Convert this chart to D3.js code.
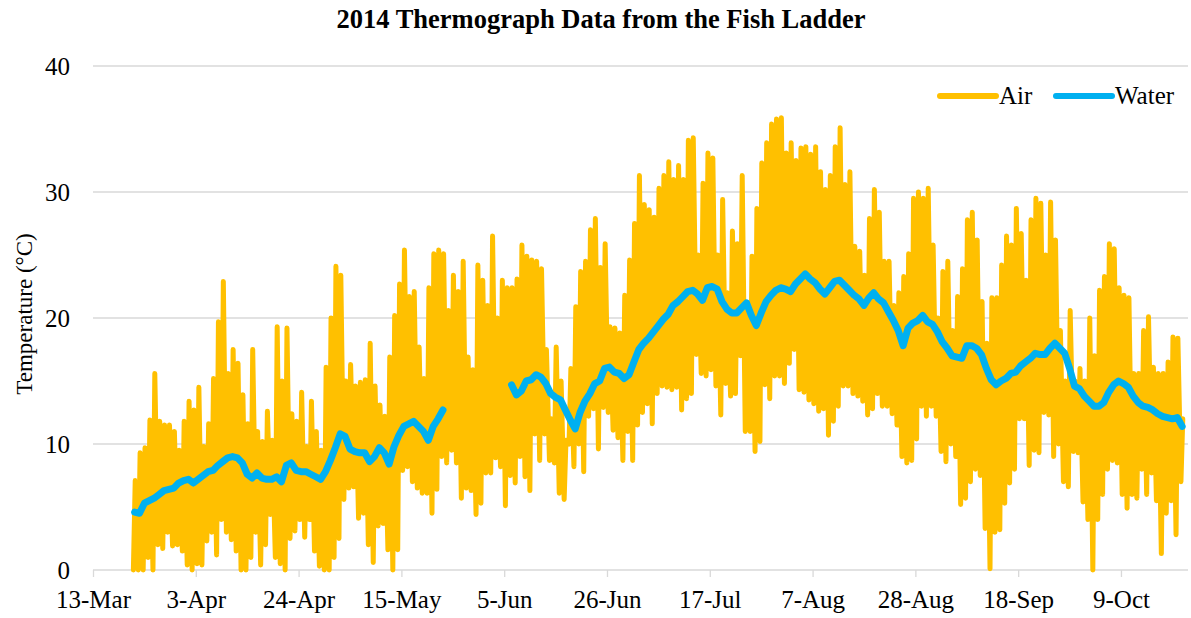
<!DOCTYPE html>
<html><head><meta charset="utf-8">
<script src="https://cdn.jsdelivr.net/npm/d3@7"></script>
<style>
body{margin:0;background:#fff}
text{font-family:"Liberation Serif","Times New Roman",serif;fill:#000}
</style>
</head><body>
<svg id="chart" width="1191" height="618"></svg>
<script>
// ---------- data ----------
const firstDay = "2014-03-21";          // first day of the record
const tickLabels = ["13-Mar","3-Apr","24-Apr","15-May","5-Jun","26-Jun","17-Jul","7-Aug","28-Aug","18-Sep","9-Oct"];
const yTicks = [0,10,20,30,40];
const seriesNames = ["Air","Water"];

// daily air maximum (°C), one value per day from 21-Mar
const airMax = [
 7.1,9.3,9.7,11.9,15.6,11.8,11.5,11.5,11,9.5,11.8,13.4,12.7,14.5,9.8,11.6,15.2,19.7,22.9,15.6,17.5,16.4,13.9,11.6,17.5,11,10.2,12.6,10.3,19.3,15,19.2,12.4,
 11.8,14.1,9.8,13.4,11,9.5,16.1,20,24.1,23.4,15,16.3,14.6,14.9,15.1,18,14.6,13.1,12.2,16.9,20.2,22.7,25.4,21.7,22.1,17.7,15.2,22.4,25.1,25.4,25.1,20.6,23.4,22.1,24.5,16.9,
 15.9,24.2,23,21,26.5,20,23,22.4,22.4,23.1,25.8,24.9,24.6,24.5,23.9,17.5,12,17.7,15,10.3,16,20.9,23.7,24.5,27,27.9,24,25.9,19.3,19.2,18.8,21.8,24.6,27.5,31.3,
 29,28.6,28,30.3,31.3,32.4,31,32.1,31,34.1,34.3,25,30.7,33.1,32.7,25,29.4,22,26.9,25.9,31.3,21,24.9,28.7,32.3,33.9,35.4,35.8,35.9,33.1,33.9,32.5,33.5,
 33.6,33,33.6,31.6,30.2,31.3,33.6,35.1,30.6,31.6,25.7,25.3,23.4,27.9,30.2,28.4,24.5,24.5,21,22,23.3,25.1,29.5,30,29.5,30.3,25.8,20,23.7,24.5,19,21.7,23.9,27.8,28.4,26.2,21.3,
 18,21.6,21.6,24.2,26.5,25.8,28.7,26.7,23,27.8,29.5,29.1,25,29.2,26.2,19,15,20.6,15,16,15,20,17,22.2,23.3,25.9,25.5,22.4,21.8,21.6,15.6,15.6,19,20.1,16.1,15.6,15.6,16.5,18.5,18.4,12
];
// daily air minimum (°C)
const airMin = [
 0,0,0,1,0,2,1.7,3,1.9,2,1.5,0.4,0,0.5,0.4,2.3,3,1.2,4,3,2.4,1.5,0,0,1,3,0.4,2,4.4,1,0.5,0,2.5,
 3.1,4,2.6,4,1.5,0.3,0,0,1,2.5,5.6,6.5,6.6,4.1,4.5,2,0.6,3.5,3.7,1.6,0,1.6,7.9,8.2,7,6.5,6.1,6.1,4.5,6.4,9,8.5,9.5,8.5,
 5.7,6.5,6.3,4.4,5.3,7.7,7.7,8.9,8.2,5.1,7.5,6.9,9,7.4,6.3,10.8,8.7,10.8,8.7,8.5,6.1,5.6,10,8.2,10,7.8,12.2,12.8,9.6,12.9,12.5,11.1,10.5,8.7,11,
 8.7,11.5,12.5,13.2,11.6,14,14.6,14.5,14.3,14.5,12.7,13.6,14,17.1,15.6,15.4,15.9,14.6,12.3,14.8,13.8,14,17,11,11,9.4,10.2,14.7,13.6,15.4,15.4,14.8,16.4,17.5,14.3,
 14.1,13.5,13.2,12.6,12.8,10.7,11.8,13,14.6,14.6,14,13.8,13.4,12.3,12.8,14,13,13,12.4,11.5,9,8.5,8.7,10.4,13,12.2,13,12.2,9.4,8.6,10,9,5.2,5.7,
 7,8,7.5,3.3,0.1,3,3.2,5.3,6.9,8,12,12,8.3,9.5,9.3,12.5,12.3,9,10,7,6.6,9.4,9.3,5.4,4,0,4,6,8,8.7,8.5,6,4.9,6,5.7,8,6,7.7,5.5,1.3,4.5,5.5,2.8,7
];
// daily water temperature (°C); null = logger out of the water
const water = [
 4.6,4.5,5.3,5.5,5.7,6,6.3,6.4,6.5,6.9,7.1,7.2,6.9,7.2,7.5,7.8,7.9,8.3,8.6,8.9,9,8.9,8.5,7.6,7.3,7.7,7.3,7.2,7.2,7.4,
 7,8.3,8.5,7.9,7.8,7.8,7.6,7.4,7.2,7.8,8.7,9.7,10.8,10.6,9.6,9.4,9.3,9.3,8.6,9,9.7,9.3,8.4,9.8,10.7,11.4,11.6,11.8,11.4,11,
 10.3,11.4,12,12.7,
 null,null,null,null,null,null,null,null,null,null,null,null,null,
 14.7,13.9,14.2,15,15.1,15.5,15.3,14.8,14,13.7,13.5,12.7,11.9,11.2,12.5,13.4,14,14.8,15,16,16.1,15.7,15.6,15.2,15.5,16.5,17.5,
 18,18.4,18.9,19.4,19.9,20.3,21,21.3,21.7,22.1,22.2,21.9,21.4,22.4,22.5,22.3,21.3,20.7,20.4,20.4,20.8,21.2,20.2,19.4,20.4,21.3,21.8,22.2,22.4,22.3,22.1,22.7,23.1,
 23.5,23.1,22.8,22.3,21.9,22.4,22.9,23,22.6,22.2,21.8,21.5,21,21.6,22,21.5,21.2,20.5,19.8,19,17.8,19.2,19.6,19.8,20.2,19.7,19.5,18.9,18.1,17.6,17,16.9,16.8,17.8,17.8,
 17.6,17.1,16,15.1,14.7,15,15.2,15.6,15.7,16.2,16.5,16.8,17.2,17.1,17.1,17.6,18,17.6,17.2,16,14.6,14.4,13.8,13.4,13,13,13.3,14.1,14.7,15,14.8,14.5,13.8,13.3,13,12.9,12.7,12.4,12.2,12.1,12,12.1,11.4
];

// ---------- build ----------
const parse = d3.utcParse("%Y-%m-%d");
const day0 = parse(firstDay);
const fmt = d3.utcFormat("%-d-%b");
const axisStart = parse("2014-03-13"), axisEnd = parse("2014-10-23");

const svg = d3.select("#chart");
const x = d3.scaleUtc().domain([axisStart, axisEnd]).range([93, 1189.5]);
const y = d3.scaleLinear().domain([0, 40]).range([570, 66]);

const airPts = [];
airMax.forEach((mx, i) => {
  const d = d3.utcDay.offset(day0, i);
  airPts.push({t: d3.utcHour.offset(d, 6), v: airMin[i]});
  airPts.push({t: d3.utcHour.offset(d, 15), v: mx});
});
const waterPts = water.map((v, i) => ({t: d3.utcHour.offset(d3.utcDay.offset(day0, i), 12), v}));

// gridlines
svg.append("g").selectAll("line").data(yTicks.filter(v => v > 0)).join("line")
  .attr("x1", 93).attr("x2", 1188).attr("y1", d => y(d)).attr("y2", d => y(d))
  .attr("stroke", "#d9d9d9").attr("stroke-width", 1.3);

// x axis
const tickDates = tickLabels.map((_, k) => d3.utcDay.offset(axisStart, 21 * k));
const gx = svg.append("g").attr("transform", "translate(0,570)")
  .call(d3.axisBottom(x).tickValues(tickDates).tickFormat(fmt).tickSize(7).tickSizeOuter(0).tickPadding(13));
gx.attr("font-family", null);
gx.select(".domain").attr("stroke", "#d9d9d9").attr("stroke-width", 1.3).attr("d", "M93,0H1188");
gx.selectAll(".tick line").attr("stroke", "#d9d9d9").attr("stroke-width", 1.3);
gx.selectAll(".tick text").attr("font-size", 25).attr("fill", "#000");

// y axis
const gy = svg.append("g").attr("transform", "translate(93,0)")
  .call(d3.axisLeft(y).tickValues(yTicks).tickSize(0).tickPadding(23));
gy.attr("font-family", null);
gy.select(".domain").remove();
gy.selectAll(".tick text").attr("font-size", 25).attr("fill", "#000");

// series
const line = d3.line().x(d => x(d.t)).y(d => y(d.v)).defined(d => d.v != null);
svg.append("path").datum(airPts).attr("d", line)
  .attr("fill", "none").attr("stroke", "#FFC000").attr("stroke-width", 5)
  .attr("stroke-linejoin", "round").attr("stroke-linecap", "round");
svg.append("path").datum(waterPts).attr("d", line)
  .attr("fill", "none").attr("stroke", "#00B0F0").attr("stroke-width", 7)
  .attr("stroke-linejoin", "round").attr("stroke-linecap", "round");

// title
svg.append("text").attr("x", 601).attr("y", 28).attr("text-anchor", "middle")
  .attr("font-size", 26.5).attr("font-weight", "bold").text("2014 Thermograph Data from the Fish Ladder");

// y title
svg.append("text").attr("transform", "translate(32,314) rotate(-90)").attr("text-anchor", "middle")
  .attr("font-size", 23).text("Temperature (°C)");

// legend
const legColors = ["#FFC000", "#00B0F0"];
const legX = [940, 1056];
const leg = svg.append("g").selectAll("g").data(seriesNames).join("g")
  .attr("transform", (d, i) => `translate(${legX[i]},96)`);
leg.append("line").attr("x1", 0).attr("x2", 56).attr("y1", 0).attr("y2", 0)
  .attr("stroke", (d, i) => legColors[i]).attr("stroke-width", 6).attr("stroke-linecap", "round");
leg.append("text").attr("x", 59).attr("y", 8).attr("font-size", 25).text(d => d);
</script>
</body></html>
